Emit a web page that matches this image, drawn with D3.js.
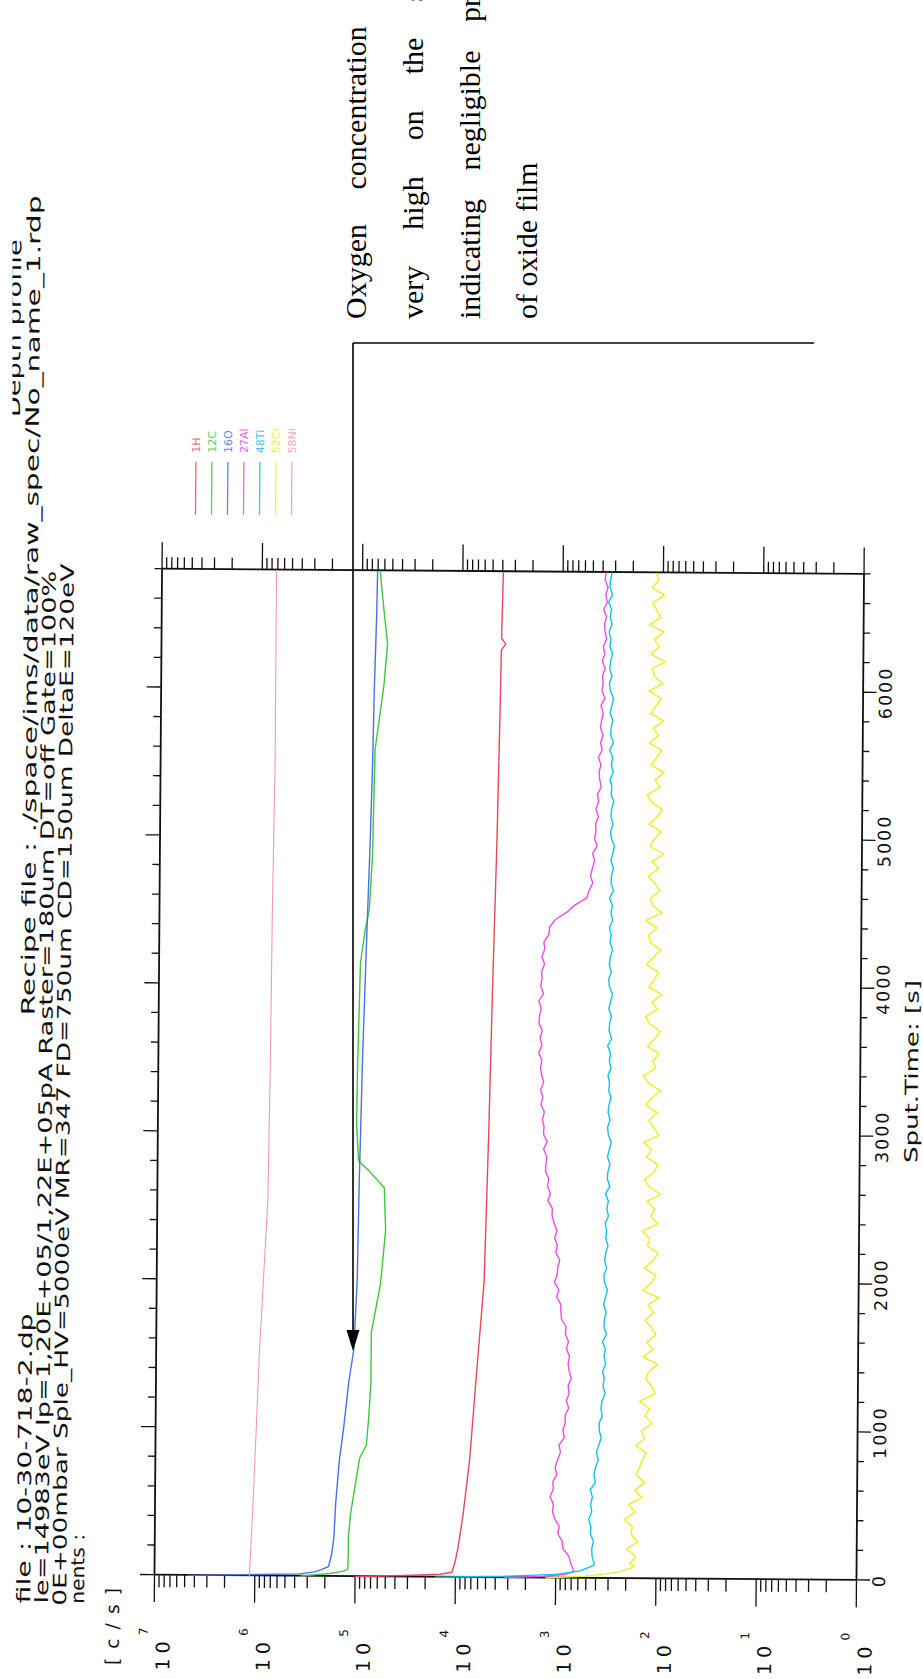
<!DOCTYPE html>
<html>
<head>
<meta charset="utf-8">
<script src="https://cdn.jsdelivr.net/npm/d3@7"></script>
<style>
  html, body { margin: 0; padding: 0; background: #fff; }
  svg { display: block; }
</style>
</head>
<body>
<svg id="chart" width="923" height="1679"></svg>
<script>
// ---------------- data ----------------
const elements = ["1H", "12C", "16O", "27Al", "48Ti", "52Cr", "58Ni"];
const lineColors = ["#e8485c", "#3cc83c", "#4a70e6", "#f04ae8", "#12c2e8", "#f0ee1c", "#f29aaa"];

const timeTicks = d3.range(0, 6801, 200);
const timeLabels = [0, 1000, 2000, 3000, 4000, 5000, 6000];
const decades = [0, 1, 2, 3, 4, 5, 6, 7];

// smooth profiles: sputter time [s] / intensity [c/s]
const h1Times   = [0, 10, 20, 34, 100, 200, 416, 800, 1315, 2000, 3000, 4000, 5000, 6000, 6270, 6310, 6350, 6800];
const h1Counts  = [1.0e5, 3.2e4, 1.4e4, 1.07e4, 1.0e4, 9.35e3, 8.4e3, 7.25e3, 6.4e3, 5.37e3, 4.96e3, 4.65e3, 4.31e3, 4.08e3, 4.03e3, 3.65e3, 4.02e3, 3.9e3];

const c12Times  = [0, 10, 20, 35, 49, 150, 260, 420, 640, 800, 890, 1090, 1320, 1650, 1980, 2340, 2630, 2740, 2810, 3060, 3420, 4150, 4360, 4510, 4870, 5590, 6020, 6310, 6530, 6800];
const c12Counts = [3.5e5, 2.5e5, 1.78e5, 1.32e5, 1.17e5, 1.16e5, 1.16e5, 1.11e5, 9.9e4, 9.1e4, 7.8e4, 7.4e4, 7.1e4, 7.1e4, 5.8e4, 5.2e4, 5.4e4, 7.6e4, 9.8e4, 1.03e5, 1.02e5, 9.7e4, 8.8e4, 8.0e4, 7.5e4, 7.2e4, 5.95e4, 5.5e4, 6.0e4, 6.6e4];

const o16Times  = [0, 8, 16, 30, 45, 67, 150, 260, 500, 800, 1000, 1315, 1530, 2000, 2700, 3000, 3500, 4000, 4500, 5000, 5500, 6000, 6500, 6800];
const o16Counts = [4.6e6, 1.26e6, 3.55e5, 2.5e5, 2.14e5, 1.82e5, 1.70e5, 1.62e5, 1.56e5, 1.44e5, 1.32e5, 1.18e5, 1.06e5, 9.9e4, 9.6e4, 9.4e4, 9.1e4, 8.7e4, 8.3e4, 7.9e4, 7.6e4, 7.4e4, 7.1e4, 7.0e4];

const ni58Times  = [0, 500, 1000, 1500, 2550, 3500, 4500, 5500, 6800];
const ni58Counts = [1.12e6, 1.04e6, 9.8e5, 9.25e5, 7.8e5, 7.55e5, 7.4e5, 7.13e5, 7.13e5];

// noisy profiles: start transient, then a 50 s sampling grid from 100 s
const gridTimes = d3.range(100, 6801, 50);

const al27HeadTimes  = [0, 12, 25, 45];
const al27HeadCounts = [3200, 1300, 800, 650];
const al27Counts = [
  700, 735, 842, 855, 950, 920, 1020, 1075, 1055, 1140,
  1058, 1072, 980, 1020, 965, 905, 935, 830, 857, 815,
  815, 755, 796, 748, 767, 715, 750, 770, 745, 803,
  766, 826, 812, 903, 917, 921, 1014, 964, 1071, 1005,
  994, 950, 1040, 1010, 1071, 1018, 1090, 1142, 1137, 1260,
  1193, 1273, 1238, 1339, 1323, 1303, 1404, 1292, 1408, 1395,
  1443, 1388, 1498, 1440, 1514, 1416, 1485, 1525, 1480, 1596,
  1484, 1550, 1478, 1596, 1576, 1519, 1602, 1444, 1540, 1495,
  1510, 1416, 1508, 1415, 1442, 1286, 1270, 1122, 862, 714,
  543, 515, 475, 500, 480, 457, 478, 432, 459, 445,
  449, 422, 447, 421, 433, 398, 412, 418, 402, 426,
  392, 406, 384, 409, 399, 385, 406, 370, 398, 387,
  393, 371, 396, 375, 388, 360, 374, 379, 363, 387,
  357, 370, 352, 376, 368
];

const ti48HeadTimes  = [0, 10, 25, 50, 90];
const ti48HeadCounts = [15800, 3200, 1000, 560, 410];
const ti48Counts = [
  409, 430, 434, 417, 448, 444, 468, 436, 449, 431,
  452, 403, 418, 404, 378, 396, 376, 356, 372, 374,
  348, 360, 350, 328, 344, 335, 348, 325, 338, 328,
  351, 321, 340, 337, 324, 344, 330, 316, 339, 344,
  323, 339, 331, 314, 332, 325, 337, 313, 325, 314,
  335, 305, 323, 319, 305, 323, 310, 297, 318, 324,
  306, 321, 315, 300, 318, 312, 324, 303, 315, 306,
  328, 300, 318, 315, 303, 321, 309, 296, 318, 324,
  305, 320, 314, 298, 316, 309, 321, 299, 311, 301,
  322, 294, 312, 309, 296, 314, 302, 290, 311, 318,
  301, 317, 312, 297, 316, 311, 324, 303, 316, 307,
  330, 302, 322, 320, 308, 328, 316, 304, 328, 335,
  317, 334, 328, 313, 334, 327, 341, 319, 332, 323,
  346, 317, 337, 333, 320
];

const cr52HeadTimes  = [0, 15, 40, 70, 90];
const cr52HeadCounts = [1250, 500, 250, 178, 162];
const cr52Counts = [
  181, 158, 196, 150, 176, 171, 207, 160, 188, 139,
  163, 129, 158, 147, 139, 126, 160, 131, 142, 110,
  131, 118, 148, 104, 112, 129, 121, 99, 138, 110,
  127, 103, 115, 133, 108, 124, 97, 140, 116, 104,
  136, 112, 99, 127, 121, 143, 101, 118, 108, 130,
  95, 124, 137, 110, 102, 131, 118, 141, 99, 113,
  126, 104, 135, 119, 97, 128, 144, 109, 116, 101,
  132, 112, 98, 125, 138, 106, 119, 95, 129, 114,
  103, 136, 117, 99, 124, 131, 108, 140, 96, 118,
  127, 101, 113, 134, 105, 122, 93, 128, 117, 99,
  131, 110, 97, 125, 138, 103, 116, 94, 127, 112,
  100, 133, 108, 121, 96, 129, 115, 102, 136, 98,
  118, 126, 93, 131, 107, 120, 97, 134, 104, 115,
  125, 96, 128, 109, 118
];

// header and annotation text
const headerLines = [
  "Depth profile",
  "file : 10-30-718-2.dp",
  "Recipe file : ./space/ims/data/raw_spec/No_name_1.rdp",
  "le=14983eV Ip=1,20E+05/1,22E+05pA Raster=180um DT=off Gate=100%",
  "0E+00mbar Sple_HV=5000eV MR=347 FD=750um CD=150um DeltaE=120eV",
  "nents :"
];
const unitLabel = "[c/s]";
const timeTitle = "Sput.Time: [s]";
const noteLines = [
  "Oxygen concentration",
  "very high on the surface",
  "indicating negligible presence",
  "of oxide film"
];

// ---------------- layout ----------------
const W = 923, H = 1679;
const plotFont = '"DejaVu Sans", "Liberation Sans", sans-serif';
const noteFont = '"Liberation Serif", "Times New Roman", serif';

const svg = d3.select("#chart");
svg.append("clipPath").attr("id", "sheetEdge")
  .append("rect").attr("x", 12.5).attr("y", 0).attr("width", W).attr("height", H);

// the plotter sheet sits slightly askew; the plot itself is laid out
// landscape and turned a quarter turn counter-clockwise
const sheet = svg.append("g").attr("clip-path", "url(#sheetEdge)")
  .append("g").attr("transform", "rotate(0.43 508.75 1074.75)");
const root = sheet.append("g").attr("transform", `translate(0,${H}) rotate(-90)`);

const x = d3.scaleLinear().domain([0, 6800]).range([101.25, 1107.25]);
const y = d3.scaleLog().domain([1, 1e7]).range([859.75, 157.75]);

const logTicks = [];
for (let k = 0; k < 7; k++) for (let m = 1; m < 10; m++) logTicks.push(m * Math.pow(10, k));
logTicks.push(1e7);
const isDecade = v => Math.abs(Math.log10(v) - Math.round(Math.log10(v))) < 1e-9;

function styleAxis(g, sizeFn, sign, horizontal) {
  g.select(".domain").attr("stroke", "#111").attr("stroke-width", 1.8);
  g.selectAll(".tick line")
    .attr("stroke", "#111").attr("stroke-width", 1.3)
    .each(function (d) {
      d3.select(this).attr(horizontal ? "y2" : "x2", sizeFn(d) * sign);
    });
  g.selectAll(".tick text").remove();
}

// intensity axes on the t = 0 and t = end edges
const axL = root.append("g").attr("transform", `translate(${x(0)},0)`)
  .call(d3.axisLeft(y).tickValues(logTicks).tickSizeOuter(0).tickFormat(""));
styleAxis(axL, v => isDecade(v) ? 27 : 12, -1, false);

const axR = root.append("g").attr("transform", `translate(${x(6800)},0)`)
  .call(d3.axisRight(y).tickValues(logTicks).tickSizeOuter(0).tickFormat(""));
styleAxis(axR, v => isDecade(v) ? 27 : 12, 1, false);

// time axes on the two long edges
const axT = root.append("g").attr("transform", `translate(0,${y(1e7)})`)
  .call(d3.axisTop(x).tickValues(timeTicks).tickSizeOuter(0).tickFormat(""));
styleAxis(axT, t => t % 1000 === 0 ? 14 : 7, -1, true);

const axB = root.append("g").attr("transform", `translate(0,${y(1)})`)
  .call(d3.axisBottom(x).tickValues(timeTicks).tickSizeOuter(0).tickFormat(""));
styleAxis(axB, t => t % 1000 === 0 ? 14 : 7, 1, true);

// time labels
root.append("g").selectAll("text").data(timeLabels).join("text")
  .attr("x", d => x(d)).attr("y", y(1) + 29)
  .attr("text-anchor", "middle")
  .attr("font-family", plotFont).attr("font-size", 17.5)
  .attr("letter-spacing", 2).attr("fill", "#111")
  .text(d => d);

root.append("text")
  .attr("x", 519).attr("y", 918)
  .attr("textLength", 183).attr("lengthAdjust", "spacingAndGlyphs")
  .attr("font-family", plotFont).attr("font-size", 18).attr("fill", "#111")
  .text(timeTitle);

// decade labels 10^k
const decG = root.append("g").selectAll("g").data(decades).join("g");
decG.append("text")
  .attr("x", 6).attr("y", d => y(Math.pow(10, d)) + 16)
  .attr("textLength", 29).attr("lengthAdjust", "spacing")
  .attr("font-family", plotFont).attr("font-size", 19).attr("fill", "#111")
  .text("10");
decG.append("text")
  .attr("x", 41).attr("y", d => y(Math.pow(10, d)) - 6)
  .attr("font-family", plotFont).attr("font-size", 12).attr("fill", "#111")
  .text(d => d);

root.append("text")
  .attr("x", 11).attr("y", 123)
  .attr("textLength", 77).attr("lengthAdjust", "spacing")
  .attr("font-family", plotFont).attr("font-size", 18.5).attr("fill", "#111")
  .text(unitLabel);

// header block
const headerPos = [
  { x0: 1258, x1: 1436, base: 15 },
  { x0: 72, x1: 362, base: 34 },
  { x0: 660, x1: 1480, base: 34 },
  { x0: 72, x1: 1105, base: 52 },
  { x0: 70, x1: 1112, base: 70 },
  { x0: 72, x1: 142, base: 88 }
];
root.append("g")
  .selectAll("text").data(headerLines).join("text")
  .attr("x", (d, i) => headerPos[i].x0)
  .attr("y", (d, i) => headerPos[i].base)
  .attr("textLength", (d, i) => headerPos[i].x1 - headerPos[i].x0)
  .attr("lengthAdjust", "spacingAndGlyphs")
  .attr("font-family", plotFont).attr("font-size", 18.5).attr("fill", "#111")
  .text(d => d);

// legend
const legY = i => 191.3 + i * 16;
const leg = root.append("g").selectAll("g").data(elements).join("g");
leg.append("line")
  .attr("x1", 1162).attr("x2", 1215)
  .attr("y1", (d, i) => legY(i)).attr("y2", (d, i) => legY(i))
  .attr("stroke", (d, i) => lineColors[i]).attr("stroke-width", 1.3).attr("opacity", 0.85);
leg.append("text")
  .attr("x", 1224).attr("y", (d, i) => legY(i) + 4)
  .attr("font-family", plotFont).attr("font-size", 11)
  .attr("fill", (d, i) => lineColors[i]).attr("opacity", 0.85)
  .text(d => d);

// profiles
const zip = (ts, vs) => ts.map((t, i) => ({ t, v: vs[i] }));
const series = [
  { name: "1H",   pts: zip(h1Times, h1Counts) },
  { name: "12C",  pts: zip(c12Times, c12Counts) },
  { name: "16O",  pts: zip(o16Times, o16Counts) },
  { name: "27Al", pts: zip(al27HeadTimes.concat(gridTimes), al27HeadCounts.concat(al27Counts)) },
  { name: "48Ti", pts: zip(ti48HeadTimes.concat(gridTimes), ti48HeadCounts.concat(ti48Counts)) },
  { name: "52Cr", pts: zip(cr52HeadTimes.concat(gridTimes), cr52HeadCounts.concat(cr52Counts)) },
  { name: "58Ni", pts: zip(ni58Times, ni58Counts) }
];
const line = d3.line().x(d => x(d.t)).y(d => y(d.v));
root.append("g").selectAll("path").data(series).join("path")
  .attr("d", d => line(d.pts))
  .attr("fill", "none")
  .attr("stroke", d => lineColors[elements.indexOf(d.name)])
  .attr("stroke-width", d => d.name === "58Ni" ? 1.1 : 1.4)
  .attr("stroke-linejoin", "round");

// annotation (typed onto the page, square to the sheet edge)
const note = svg.append("g").attr("transform", `translate(0,${H}) rotate(-90)`);
const noteBase = [366, 423, 480, 537];
const noteSpacing = [27, 28.5, 21, 0];
note.selectAll("text").data(noteLines).join("text")
  .attr("x", 1360).attr("y", (d, i) => noteBase[i])
  .attr("word-spacing", (d, i) => noteSpacing[i])
  .attr("font-family", noteFont).attr("font-size", 30).attr("fill", "#000")
  .text(d => d);

const tip = { X: 328, Y: 353 };
note.append("line")
  .attr("x1", 1336).attr("y1", tip.Y).attr("x2", 1336).attr("y2", 814)
  .attr("stroke", "#000").attr("stroke-width", 1.6);
note.append("line")
  .attr("x1", 1336).attr("y1", tip.Y).attr("x2", tip.X + 18).attr("y2", tip.Y)
  .attr("stroke", "#000").attr("stroke-width", 1.6);
note.append("path")
  .attr("d", `M${tip.X},${tip.Y} l21,-6.5 l0,13 Z`)
  .attr("fill", "#000");
</script>
</body>
</html>
